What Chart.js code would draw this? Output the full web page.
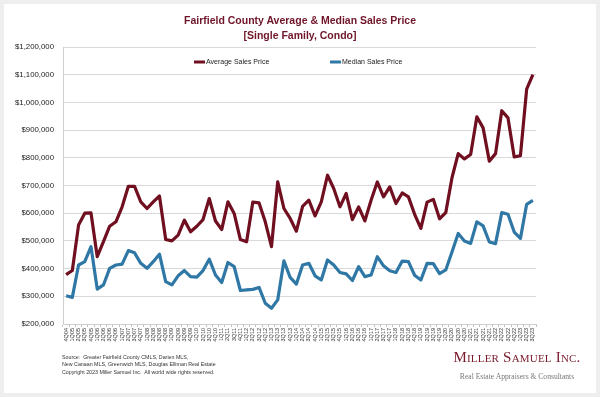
<!DOCTYPE html>
<html>
<head>
<meta charset="utf-8">
<script src="https://cdn.jsdelivr.net/npm/chart.js@4.4.1/dist/chart.umd.min.js"></script>
<style>
  html, body { margin: 0; padding: 0; background: #eeeeee; }
  #wrap { position: relative; width: 600px; height: 397px; background: #eeeeee; overflow: hidden; }
  #panel { position: absolute; left: 4px; top: 4px; width: 592px; height: 389px; background: #ffffff; }
  #c { position: absolute; left: 0; top: 0; }
  .t { position: absolute; left: 0; width: 600px; text-align: center; font-family: "Liberation Sans", Arial, sans-serif; font-weight: bold; font-size: 10.5px; color: #6e1528; }
  .src { position: absolute; left: 62px; font-family: "Liberation Sans", Arial, sans-serif; font-size: 5.3px; color: #333; white-space: nowrap; }
  .logo { position: absolute; left: 452px; top: 349px; width: 130px; text-align: center; font-family: "Liberation Serif", "Times New Roman", serif; font-variant: small-caps; color: #7a1a2c; font-size: 15px; white-space: nowrap; letter-spacing: 0.2px; }
  .sub { position: absolute; left: 452px; top: 372px; width: 130px; text-align: center; font-family: "Liberation Serif", "Times New Roman", serif; color: #777; font-size: 7.6px; white-space: nowrap; }
</style>
</head>
<body>
<div id="wrap">
  <div id="panel"></div>
  <canvas id="c" width="600" height="397"></canvas>
  <div class="t" style="top:14px;">Fairfield County Average &amp; Median Sales Price</div>
  <div class="t" style="top:29px;">[Single Family, Condo]</div>
  <div class="src" style="top:354px;">Source:&nbsp; Greater Fairfield County CMLS, Darien MLS,</div>
  <div class="src" style="top:361px;">New Canaan MLS, Greenwich MLS, Douglas Elliman Real Estate</div>
  <div class="src" style="top:369px;">Copyright 2023 Miller Samuel Inc.&nbsp; All world wide rights reserved.</div>
  <div class="logo">Miller Samuel Inc.</div>
  <div class="sub">Real Estate Appraisers &amp; Consultants</div>
</div>
<script>
const quarters = [
  "4Q04",
  "1Q05","2Q05","3Q05","4Q05","1Q06","2Q06","3Q06","4Q06","1Q07","2Q07","3Q07","4Q07",
  "1Q08","2Q08","3Q08","4Q08","1Q09","2Q09","3Q09","4Q09","1Q10","2Q10","3Q10","4Q10",
  "1Q11","2Q11","3Q11","4Q11","1Q12","2Q12","3Q12","4Q12","1Q13","2Q13","3Q13","4Q13",
  "1Q14","2Q14","3Q14","4Q14","1Q15","2Q15","3Q15","4Q15","1Q16","2Q16","3Q16","4Q16",
  "1Q17","2Q17","3Q17","4Q17","1Q18","2Q18","3Q18","4Q18","1Q19","2Q19","3Q19","4Q19",
  "1Q20","2Q20","3Q20","4Q20","1Q21","2Q21","3Q21","4Q21","1Q22","2Q22","3Q22","4Q22",
  "1Q23","2Q23","3Q23"
];

const averageSalesPrice = [
  378000,
  393000,557000,600000,601000,443000,497000,553000,569000,623000,697000,697000,641000,
  617000,641000,662000,505000,500000,521000,575000,533000,553000,577000,653000,572000,
  541000,641000,599000,505000,497000,640000,637000,569000,479000,713000,617000,581000,
  535000,625000,647000,590000,641000,737000,689000,623000,671000,577000,623000,572000,
  647000,713000,659000,695000,635000,673000,659000,596000,545000,640000,650000,580000,
  602000,728000,815000,796000,812000,948000,908000,788000,815000,970000,944000,803000,
  808000,1048000,1100000
];

const medianSalesPrice = [
  302000,
  296000,413000,425000,479000,326000,341000,401000,413000,416000,465000,457000,419000,
  401000,425000,452000,353000,341000,374000,393000,371000,369000,393000,434000,377000,
  350000,422000,407000,321000,323000,325000,332000,275000,257000,287000,428000,368000,
  344000,413000,419000,374000,359000,431000,413000,386000,381000,357000,407000,371000,
  377000,443000,410000,392000,386000,427000,425000,376000,359000,419000,418000,382000,
  395000,460000,527000,500000,491000,569000,554000,496000,490000,602000,596000,532000,
  509000,632000,646000
];

const yTicks = { min: 200000, max: 1200000, step: 100000 };

function money(v) {
  return "$" + Math.round(v).toString().replace(/\B(?=(\d{3})+(?!\d))/g, ",");
}

const insideLegend = {
  id: "insideLegend",
  afterDraw(chart) {
    const ctx = chart.ctx;
    const area = chart.chartArea;
    const y = area.top + 15;
    const starts = [area.left + 131, area.left + 267];
    ctx.save();
    ctx.font = "7px 'Liberation Sans', Arial, sans-serif";
    ctx.textBaseline = "middle";
    chart.data.datasets.forEach((ds, i) => {
      const x = starts[i];
      ctx.strokeStyle = ds.borderColor;
      ctx.lineWidth = 3;
      ctx.beginPath();
      ctx.moveTo(x, y);
      ctx.lineTo(x + 11, y);
      ctx.stroke();
      ctx.fillStyle = "#222";
      ctx.fillText(ds.label, x + 12, y + 0.5);
    });
    ctx.restore();
  }
};

new Chart(document.getElementById("c"), {
  type: "line",
  data: {
    labels: quarters,
    datasets: [
      { label: "Average Sales Price", data: averageSalesPrice, borderColor: "#700f20", backgroundColor: "#700f20", borderWidth: 3.2, pointRadius: 0, tension: 0, borderJoinStyle: "round" },
      { label: "Median Sales Price", data: medianSalesPrice, borderColor: "#2f78a6", backgroundColor: "#2f78a6", borderWidth: 3.2, pointRadius: 0, tension: 0, borderJoinStyle: "round" }
    ]
  },
  options: {
    responsive: false,
    animation: false,
    events: [],
    layout: { padding: { left: 0, right: 64, top: 47, bottom: 0 } },
    plugins: { legend: { display: false }, title: { display: false }, tooltip: { enabled: false } },
    scales: {
      x: {
        type: "category",
        offset: true,
        afterFit(scale) { scale.height = 73; },
        grid: { display: true, drawOnChartArea: false, drawTicks: true, tickLength: 3, offset: true, color: "#bfbfbf" },
        border: { display: true, color: "#cfcfcf" },
        ticks: {
          autoSkip: false, minRotation: 90, maxRotation: 90, padding: 1,
          color: "#333", font: { family: "'Liberation Sans', Arial, sans-serif", size: 5.5 }
        }
      },
      y: {
        min: yTicks.min, max: yTicks.max,
        afterFit(scale) { scale.width = 63; },
        grid: { color: "#d9d9d9", drawTicks: false, lineWidth: 1 },
        border: { display: true, color: "#cfcfcf" },
        ticks: {
          stepSize: yTicks.step, padding: 9, color: "#222",
          font: { family: "'Liberation Sans', Arial, sans-serif", size: 7.8 },
          callback: (v) => money(v)
        }
      }
    }
  },
  plugins: [insideLegend]
});
</script>
</body>
</html>
